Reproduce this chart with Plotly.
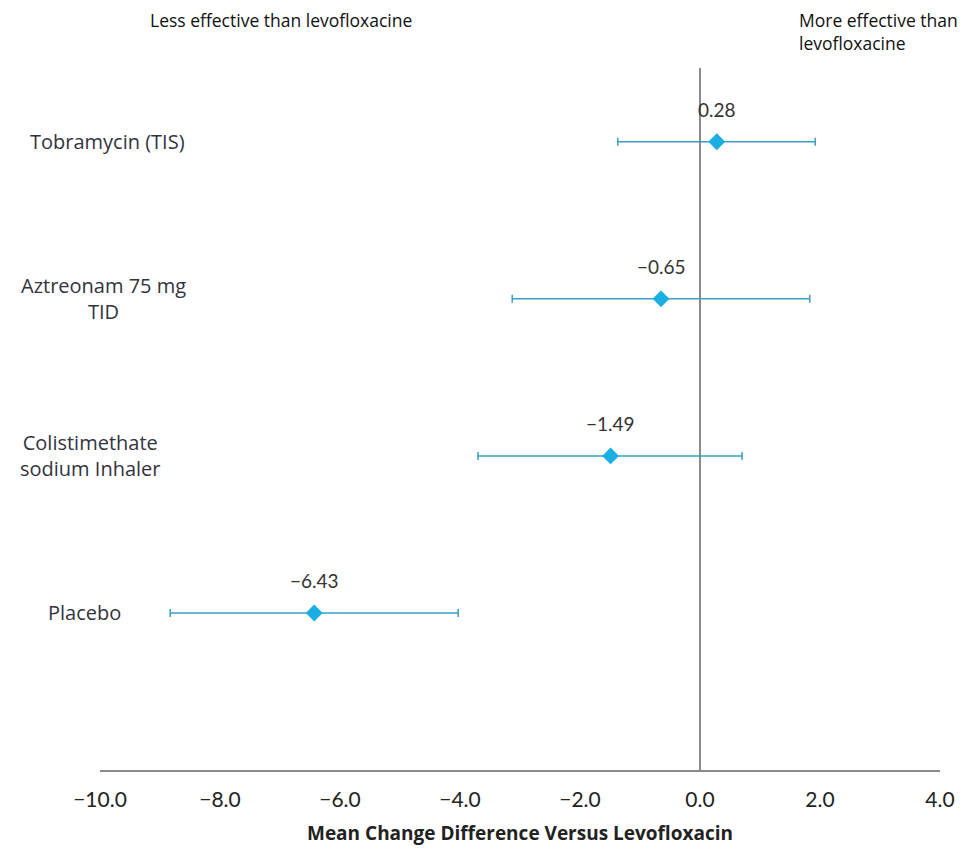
import plotly.graph_objects as go

categories = ["Tobramycin (TIS)", "Aztreonam 75 mg<br>TID", "Colistimethate<br>sodium Inhaler", "Placebo"]
means = [0.28, -0.65, -1.49, -6.43]
lower = [-1.37, -3.13, -3.70, -8.83]
upper = [1.92, 1.83, 0.70, -4.03]
value_labels = ["0.28", "\u22120.65", "\u22121.49", "\u22126.43"]
tick_vals = [-10, -8, -6, -4, -2, 0, 2, 4]
tick_text = ["\u221210.0", "\u22128.0", "\u22126.0", "\u22124.0", "\u22122.0", "0.0", "2.0", "4.0"]

ypos = [4, 3, 2, 1]
label_centers_px = [107, 103, 90, 84]

fig = go.Figure()
fig.add_trace(go.Scatter(
    x=means, y=ypos, mode="markers",
    marker=dict(symbol="diamond", size=13, color="#1aaee2"),
    error_x=dict(type="data", symmetric=False,
                 array=[u - m for u, m in zip(upper, means)],
                 arrayminus=[m - l for m, l in zip(means, lower)],
                 color="#3a9ec6", thickness=1.5, width=4),
    showlegend=False, hoverinfo="skip",
))

fig.add_shape(type="line", x0=0, x1=0, y0=0, y1=4.47, xref="x", yref="y",
              line=dict(color="#8a8a8a", width=2), layer="below")

annotations = []
for m, y, t in zip(means, ypos, value_labels):
    annotations.append(dict(x=m, y=y, xref="x", yref="y", text=t, showarrow=False,
                            yshift=32, font=dict(family="Lato, Open Sans", size=19, color="#333333")))
for c, y, px in zip(categories, ypos, label_centers_px):
    annotations.append(dict(x=(px - 100) / 840, y=y, xref="paper", yref="y", text=c, showarrow=False,
                            xanchor="center", align="center",
                            font=dict(family="Open Sans", size=20, color="#333340")))
annotations.append(dict(x=(148 - 100) / 840, y=1, xref="paper", yref="paper", yshift=62,
                        text="Less effective than levofloxacine", showarrow=False,
                        xanchor="left", yanchor="top",
                        font=dict(family="Open Sans", size=17.5, color="#111111")))
annotations.append(dict(x=(797 - 100) / 840, y=1, xref="paper", yref="paper", yshift=62,
                        text="More effective than<br>levofloxacine", showarrow=False,
                        xanchor="left", yanchor="top", align="left",
                        font=dict(family="Open Sans", size=17.5, color="#111111")))

fig.update_layout(
    width=973, height=852,
    margin=dict(l=100, r=33, t=68, b=82),
    plot_bgcolor="white", paper_bgcolor="white",
    annotations=annotations,
    xaxis=dict(range=[-10, 4], tickvals=tick_vals, ticktext=tick_text,
               showgrid=False, zeroline=False, showline=True, linecolor="#8a8a8a", linewidth=2,
               ticks="", ticklabelstandoff=10,
               tickfont=dict(family="Lato, Open Sans", size=21, color="#222222"),
               title=dict(text="<b>Mean Change Difference Versus Levofloxacin</b>", standoff=16,
                          font=dict(family="Open Sans", size=19, color="#222222"))),
    yaxis=dict(range=[0, 4.47], showgrid=False, zeroline=False, showline=False,
               showticklabels=False, ticks=""),
)

fig.write_html("out.html")
